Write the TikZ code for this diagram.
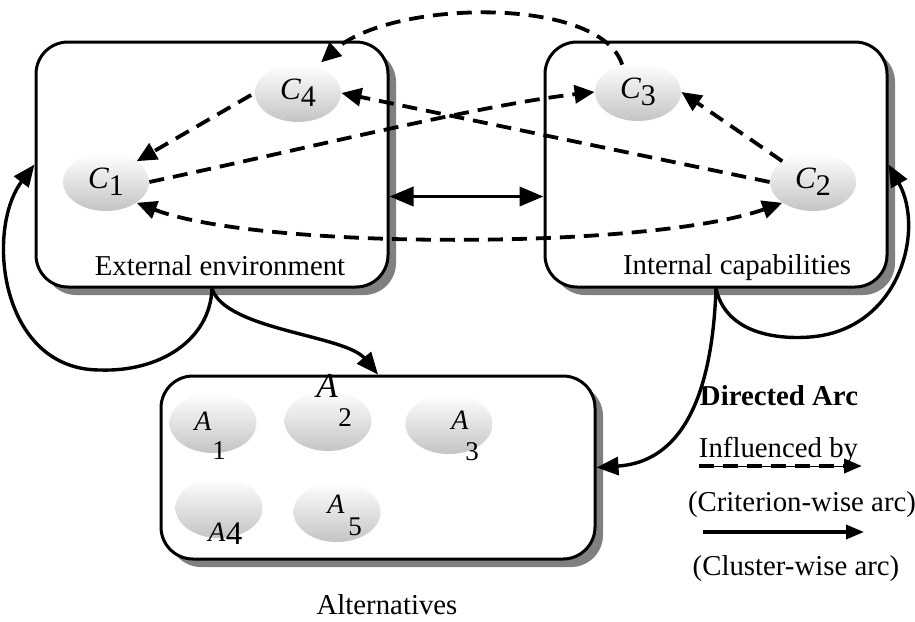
\documentclass[tikz,border=0pt]{standalone}
\usepackage{fontspec}
\setmainfont{Liberation Serif}
\usetikzlibrary{shadows,arrows.meta,shapes.geometric}
\begin{document}
\begin{tikzpicture}[x=0.5pt,y=0.5pt,
  cluster/.style={draw=black,line width=1.5pt,fill=white,rounded corners=16pt,
    inner sep=0pt,
    drop shadow={shadow xshift=4pt,shadow yshift=-4pt,fill=black!50,opacity=1}},
  critnode/.style={ellipse,minimum width=43pt,minimum height=29pt,inner sep=0pt,
    top color=white,bottom color=black!23},
  altnode/.style={ellipse,minimum width=43.5pt,minimum height=30pt,inner sep=0pt,
    top color=white,bottom color=black!23},
  lbl/.style={font=\fontsize{14.4}{17}\selectfont,inner sep=0pt,anchor=base},
  alab/.style={font=\fontsize{14}{16}\selectfont\itshape,inner sep=0pt},
  dlab/.style={font=\fontsize{13.5}{15}\selectfont,inner sep=0pt},
  dsh/.style={line width=1.9pt,dash pattern=on 7.5pt off 4.5pt,
    -{Triangle[length=10pt,width=9pt]}},
  dshboth/.style={line width=1.9pt,dash pattern=on 7.5pt off 4.5pt,
    {Triangle[length=10pt,width=9pt]}-{Triangle[length=10pt,width=9pt]}},
  sol/.style={line width=1.7pt,-{Triangle[length=11pt,width=9pt]}},
  solboth/.style={line width=1.9pt,{Triangle[length=12pt,width=9.5pt]}-{Triangle[length=12pt,width=9.5pt]}}
]
\useasboundingbox (0,0) rectangle (915,-621);

% clusters
\node[cluster,minimum width=176pt,minimum height=122.5pt] (ext) at (212,-164.5) {};
\node[cluster,minimum width=171pt,minimum height=122.5pt] (int) at (716,-164.5) {};
\node[cluster,minimum width=217pt,minimum height=91.5pt] (alt) at (378,-467.5) {};

\node[lbl] (extl) at (220,-275) {External environment};
\node[lbl] (intl) at (737,-274) {Internal capabilities};
\node[lbl] (altl) at (387,-614) {Alternatives};

% criteria
\newcommand{\critlab}[1]{{\fontsize{15.5}{16}\selectfont\itshape C}\raisebox{-3.5pt}{\fontsize{15}{16}\selectfont #1}}
\node[critnode] (c4) at (298,-93) {\critlab{4}};
\node[critnode] (c1) at (106,-182) {\critlab{1}};
\node[critnode] (c3) at (638,-92) {\critlab{3}};
\node[critnode] (c2) at (813,-182) {\critlab{2}};

% alternatives
\node[altnode] (a1) at (213,-423) {};
\node[altnode] (a2) at (328,-421) {};
\node[altnode] (a3) at (449,-424) {};
\node[altnode] (a4) at (219,-508) {};
\node[altnode] (a5) at (337,-512) {};
\node[alab] (a1l) at (203,-421) {A};
\node[dlab] (a1d) at (219,-451) {1};
\node[alab,font=\fontsize{17.5}{19}\selectfont\itshape] (a2l) at (327,-386) {A};
\node[dlab] (a2d) at (345,-418) {2};
\node[alab] (a3l) at (460,-420) {A};
\node[dlab] (a3d) at (472,-452) {3};
\node[alab] (a4l) at (217,-532) {A};
\node[dlab,font=\fontsize{16.5}{18}\selectfont] (a4d) at (234,-534) {4};
\node[alab] (a5l) at (336,-504) {A};
\node[dlab] (a5d) at (355,-527) {5};

% dashed criterion-wise arcs
\draw[dsh,shorten <=2pt] (c4.west) -- (c1.north east);
\draw[dsh] (c1.east) .. controls (300,-150) and (480,-105) .. (c3.west);
\draw[dsh] (c2.west) -- (c4.east);
\draw[dsh] (c2.north west) -- (c3.east);
\draw[dshboth] (c1.south east) .. controls (260,-250) and (650,-250) .. (c2.south west);
\draw[dsh,shorten >=3pt] (c3.120) .. controls (600,5) and (390,0) .. (c4.55);

% solid cluster-wise arcs
\draw[solboth] ([yshift=-16pt]ext.east) -- ([yshift=-16pt]int.west);
\draw[sol] (ext.south) .. controls (210,-340) and (160,-372) .. (100,-370)
  .. controls (0,-370) and (-15,-230) .. (ext.west);
\draw[sol] (ext.south) .. controls (225,-330) and (345,-335) .. (alt.north);
\draw[sol] (int.south) .. controls (725,-330) and (770,-340) .. (810,-337)
  .. controls (900,-330) and (925,-230) .. (int.east);
\draw[sol] (int.south) .. controls (712,-400) and (680,-462) .. (alt.east);

% legend
\node[lbl,font=\fontsize{14.4}{17}\selectfont\bfseries] (legt) at (779,-405) {Directed Arc};
\node[lbl] (legi) at (778.5,-457) {\underline{Influenced by}};
\coordinate (l1s) at (699,-466);
\coordinate (l1e) at (862,-466);
\draw[dsh,-{Triangle[length=9pt,width=7pt]}] (l1s) -- (l1e);
\node[lbl] (legc) at (802,-511) {(Criterion-wise arc)};
\coordinate (l2s) at (703,-532);
\coordinate (l2e) at (864,-532);
\draw[sol,-{Triangle[length=9pt,width=7pt]}] (l2s) -- (l2e);
\node[lbl] (legw) at (796,-575) {(Cluster-wise arc)};
\end{tikzpicture}
\end{document}
